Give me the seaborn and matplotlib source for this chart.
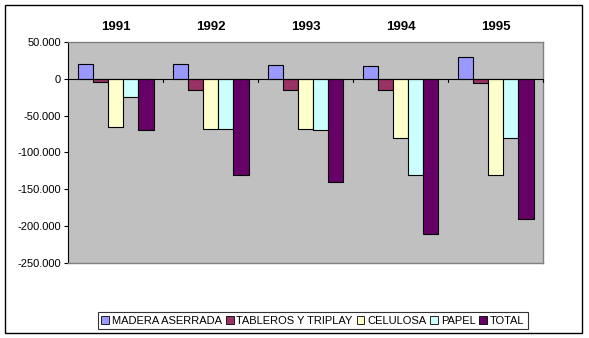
import matplotlib
matplotlib.use("Agg")
import matplotlib.pyplot as plt
import seaborn as sns
import pandas as pd
from matplotlib.patches import Rectangle
from matplotlib.ticker import FuncFormatter

years = ["1991", "1992", "1993", "1994", "1995"]
series = ["MADERA ASERRADA", "TABLEROS Y TRIPLAY", "CELULOSA", "PAPEL", "TOTAL"]
madera = [20000, 20000, 19000, 17500, 30000]
tableros = [-4000, -15000, -15000, -15000, -5000]
celulosa = [-65000, -68000, -68000, -80000, -130000]
papel = [-24000, -68000, -70000, -130000, -80000]
total = [-69000, -131000, -140000, -211000, -190000]
colors = ["#9999FF", "#993366", "#FFFFCC", "#CCFFFF", "#660066"]

values = [madera, tableros, celulosa, papel, total]
rows = []
for s, vals in zip(series, values):
    for y, v in zip(years, vals):
        rows.append({"year": y, "serie": s, "valor": v})
df = pd.DataFrame(rows)

sns.set_style("white")
plt.rcParams['font.family'] = ['Liberation Sans', 'DejaVu Sans']
plt.rcParams['text.color'] = 'black'
plt.rcParams['xtick.color'] = 'black'
plt.rcParams['ytick.color'] = 'black'

fig = plt.figure(figsize=(5.89, 3.38), dpi=100)
fig.patch.set_facecolor("white")
# outer border
fig.patches.append(Rectangle((5/589, 1-333/338), 577/589, 328/338, transform=fig.transFigure,
                             fill=False, edgecolor="black", linewidth=1.0, zorder=0))

ax = fig.add_axes([68/589, 1-263/338, 475/589, 221/338])
ax.set_facecolor("#C0C0C0")

sns.barplot(data=df, x="year", y="valor", hue="serie", order=years, hue_order=series,
            palette=colors, width=0.8, edgecolor="black", linewidth=0.8, ax=ax,
            legend=True, saturation=1)

ax.set_xlim(-0.5, 4.5)
ax.set_ylim(-250000, 50000)
ax.set_yticks(range(-250000, 50001, 50000))
ax.yaxis.set_major_formatter(FuncFormatter(lambda v, p: f"{int(v):,}".replace(",", ".")))
ax.tick_params(axis="y", left=True, length=3, width=0.8, color="black", labelsize=8,
               pad=2, labelcolor="black")

# category labels on top
ax.xaxis.tick_top()
ax.tick_params(axis="x", top=False, bottom=False, labelsize=9.5, pad=3, labelcolor="black")
for lbl in ax.get_xticklabels():
    lbl.set_fontweight("bold")
ax.set_xlabel("")
ax.set_ylabel("")

# zero axis line with tick marks at group boundaries
ax.axhline(0, color="black", linewidth=0.8, zorder=3)
for b in [0.5, 1.5, 2.5, 3.5, 4.5]:
    ax.plot([b, b], [0, -4000], color="black", linewidth=0.8, zorder=3, clip_on=False)

for side in ["top", "right", "bottom"]:
    ax.spines[side].set_color("#808080")
    ax.spines[side].set_linewidth(1.0)
ax.spines["left"].set_color("black")
ax.spines["left"].set_linewidth(0.8)
ax.grid(False)

leg = ax.legend(loc="lower left", bbox_to_anchor=(98/589, 1-329/338, 431/589, 21/338),
                bbox_transform=fig.transFigure, ncol=5, frameon=True, fontsize=8,
                handlelength=0.7, handleheight=0.7, handletextpad=0.25, columnspacing=0.35,
                borderpad=0.3, borderaxespad=0, fancybox=False)
leg.get_frame().set_edgecolor("black")
leg.get_frame().set_linewidth(0.8)
for t in leg.get_texts():
    t.set_color("black")
for h in leg.legend_handles:
    h.set_edgecolor("black")
    h.set_linewidth(0.6)

fig.savefig("out.png", dpi=100)
